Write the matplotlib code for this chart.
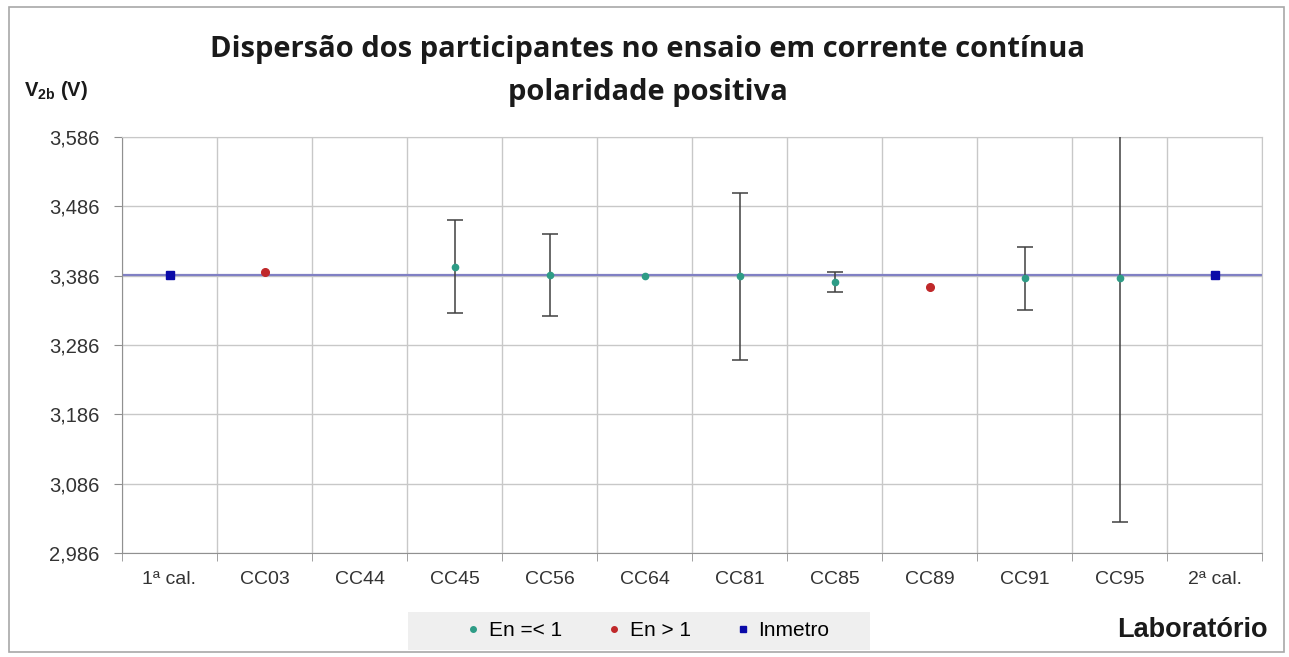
import numpy as np
import matplotlib.pyplot as plt
from matplotlib.patches import Rectangle
from matplotlib.lines import Line2D

plt.rcParams['font.family'] = ['Liberation Sans', 'DejaVu Sans']
plt.rcParams['mathtext.fontset'] = 'custom'
plt.rcParams['mathtext.rm'] = 'Liberation Sans'
plt.rcParams['mathtext.bf'] = 'Liberation Sans:bold'

# laboratories on the x axis
labs = ['1ª cal.', 'CC03', 'CC44', 'CC45', 'CC56', 'CC64',
        'CC81', 'CC85', 'CC89', 'CC91', 'CC95', '2ª cal.']

# participants with En =< 1 (value, expanded uncertainty)
ok_labs = ['CC45', 'CC56', 'CC64', 'CC81', 'CC85', 'CC91', 'CC95']
ok_vals = [3.399, 3.387, 3.386, 3.385, 3.377, 3.382, 3.382]
ok_unc = [0.067, 0.059, 0.0, 0.120, 0.015, 0.046, 0.352]

# participants with En > 1
bad_labs = ['CC03', 'CC89']
bad_vals = [3.392, 3.370]

# Inmetro calibrations, before and after
inm_labs = ['1ª cal.', '2ª cal.']
inm_vals = [3.387, 3.387]
ref_value = 3.387

yticks = [2.986, 3.086, 3.186, 3.286, 3.386, 3.486, 3.586]

teal = '#2e9c86'
red = '#c0282a'
blue = '#0a0aa8'
txt = '#333333'

fig = plt.figure(figsize=(12.89, 6.57), dpi=100)
ax = fig.add_axes([122/1289, 1-553/657, (1262-122)/1289, (553-137)/657])

pos = {name: i for i, name in enumerate(labs)}

ax.axhline(ref_value, color='#8080c4', lw=1.6, zorder=2)

# error bars only where an uncertainty was reported
ok_x = np.array([pos[l] for l in ok_labs])
ok_v = np.array(ok_vals)
ok_u = np.array(ok_unc)
has_u = ok_u > 0
ax.errorbar(ok_x[has_u], ok_v[has_u], yerr=ok_u[has_u], fmt='none',
            ecolor='#404040', elinewidth=1.1, capsize=6, capthick=1.1, zorder=3)
ax.plot(ok_x, ok_v, 'o', color=teal, ms=4.5, zorder=4)
ax.plot([pos[l] for l in bad_labs], bad_vals, 'o', color=red, ms=5.5, zorder=4)
ax.plot([pos[l] for l in inm_labs], inm_vals, 's', color=blue, ms=6, zorder=4)

ax.set_xlim(-0.5, len(labs) - 0.5)
ax.set_ylim(yticks[0], yticks[-1])
ax.set_yticks(yticks)
ax.set_yticklabels([f'{v:.3f}'.replace('.', ',') for v in yticks],
                   fontsize=14.5, color=txt)
ax.set_xticks(range(len(labs)))
ax.set_xticklabels(labs, fontsize=14, color=txt)
ax.set_xticks(np.arange(-0.5, len(labs)), minor=True)
ax.tick_params(axis='x', which='major', length=0, pad=13)
ax.tick_params(axis='x', which='minor', length=6, color='#909090')
ax.tick_params(axis='y', length=6, color='#909090', pad=10)

ax.grid(True, axis='y', which='major', color='#c8c8c8', lw=1)
ax.grid(True, axis='x', which='minor', color='#c8c8c8', lw=1)
ax.set_axisbelow(True)
for side in ['top', 'right']:
    ax.spines[side].set_color('#c8c8c8')
for side in ['left', 'bottom']:
    ax.spines[side].set_color('#909090')

fig.text(648/1289, 1-71/657,
         'Dispersão dos participantes no ensaio em corrente contínua\npolaridade positiva',
         ha='center', va='center', fontsize=21, fontweight='bold',
         family='Open Sans', linespacing=1.6, color='#1a1a1a')
fig.text(24/1289, 1-90/657, r'$\mathbf{V_{2b}}$ (V)', ha='left', va='center',
         fontsize=14.5, fontweight='bold', color='#1a1a1a')
fig.text(1268/1289, 1-630/657, 'Laboratório', ha='right', va='center',
         fontsize=19.5, fontweight='bold', color='#1a1a1a')

# legend strip
fig.patches.append(Rectangle((408/1289, 1-650/657), 462/1289, 38/657,
                             transform=fig.transFigure, facecolor='#efefef',
                             edgecolor='none', zorder=0))
handles = [
    Line2D([], [], ls='none', marker='o', color=teal, ms=4),
    Line2D([], [], ls='none', marker='o', color=red, ms=4),
    Line2D([], [], ls='none', marker='s', color=blue, ms=4.5),
]
fig.legend(handles, ['En =< 1', 'En > 1', 'Inmetro'], ncol=3,
           loc='center', bbox_to_anchor=(647/1289, 1-631/657),
           fontsize=15, frameon=False,
           handlelength=0.8, handletextpad=0.35, columnspacing=2.1,
           borderpad=0.3)

fig.patches.append(Rectangle((9/1289, 1-652/657), 1275/1289, 645/657,
                             transform=fig.transFigure, fill=False,
                             edgecolor='#a8a8a8', lw=1.2))

fig.savefig('out.png', dpi=100)
